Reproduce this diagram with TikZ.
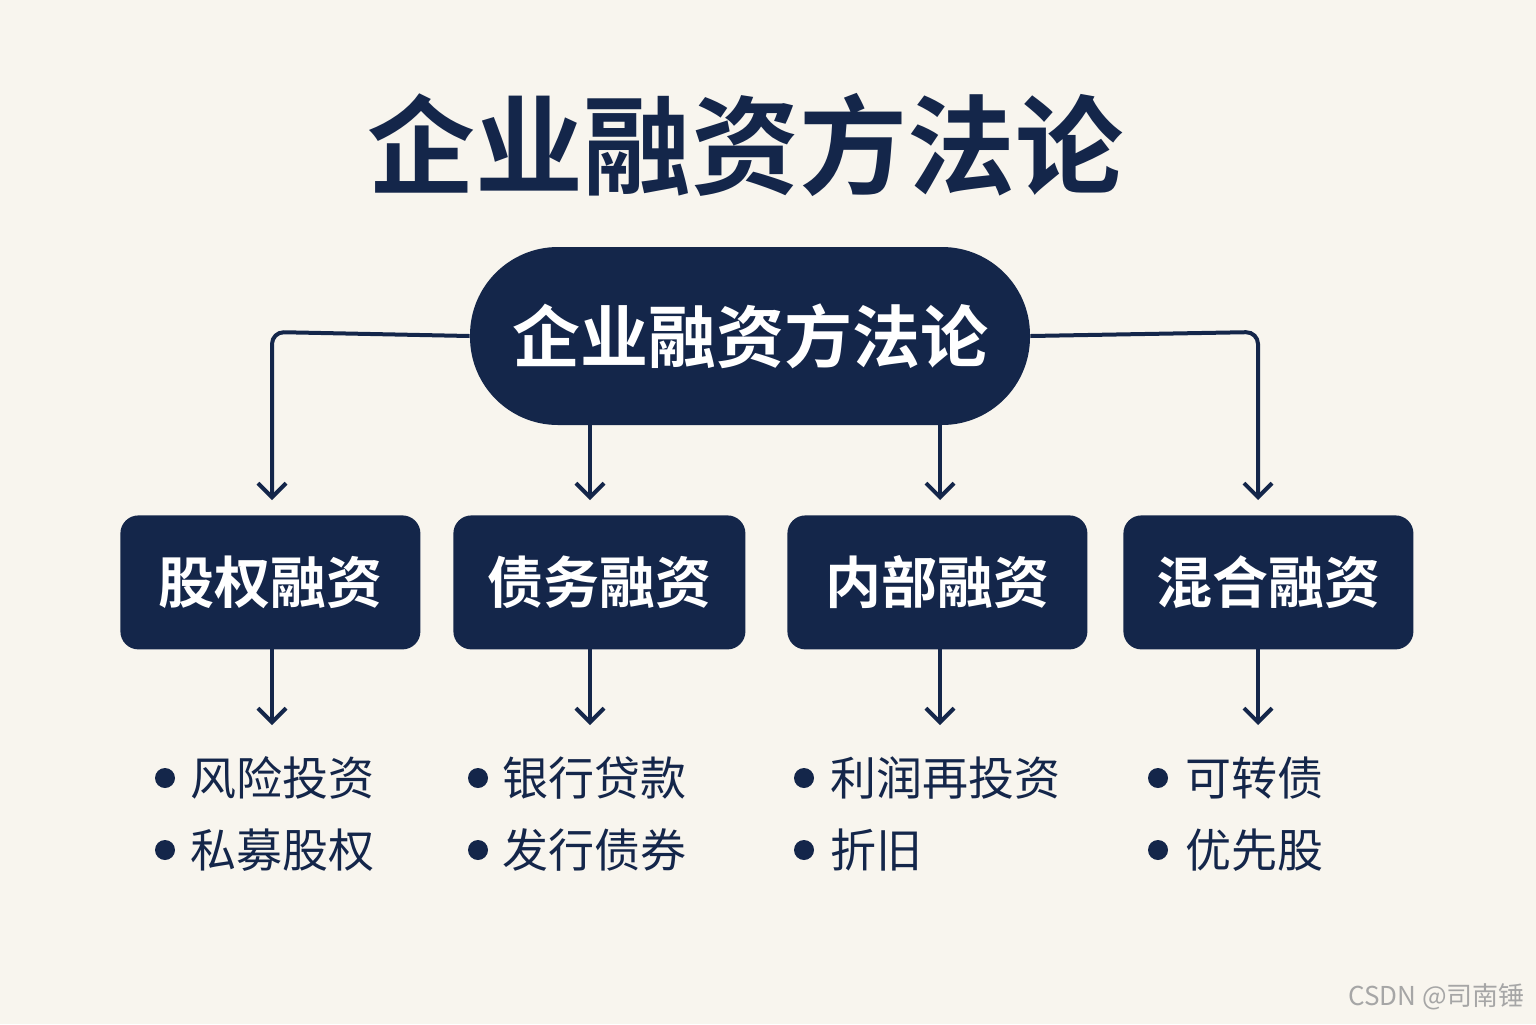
\documentclass[tikz,border=0pt]{standalone}
\usepackage{fontspec}
\setmainfont{Noto Sans CJK SC}[BoldFont={Noto Sans CJK SC Bold}]
\usetikzlibrary{arrows.meta}
\definecolor{navy}{HTML}{14264A}
\definecolor{bg}{HTML}{F8F5EE}
\begin{document}
\begin{tikzpicture}[x=0.5pt,y=-0.5pt,
  box/.style={fill=navy,rounded corners=9pt,text=white,font=\bfseries\fontsize{28}{30}\selectfont,inner sep=0pt,anchor=north west},
  arr/.style={navy,line width=2pt,-{Straight Barb[length=7pt,width=14pt,line width=2pt]},rounded corners=6pt},
  item/.style={anchor=west,text=navy,font=\fontsize{23}{26}\selectfont,inner sep=0pt},
  dot/.style={circle,fill=navy,inner sep=0pt,minimum size=10pt}]
\fill[bg] (0,0) rectangle (1536,1024);
\useasboundingbox (0,0) rectangle (1536,1024);
\node[text=navy,font=\bfseries\fontsize{54}{60}\selectfont] (title) at (745,145) {企业融资方法论};
\node[fill=navy,rounded corners=44pt,minimum width=280pt,minimum height=89pt,text=white,font=\bfseries\fontsize{34}{38}\selectfont,inner sep=0pt] (root) at (750,336) {企业融资方法论};
\node[box,minimum width=150pt,minimum height=67pt] (b1) at (120,515) {};
\node[box,minimum width=146pt,minimum height=67pt] (b2) at (453,515) {};
\node[box,minimum width=150pt,minimum height=67pt] (b3) at (787,515) {};
\node[box,minimum width=145pt,minimum height=67pt] (b4) at (1123,515) {};
\node[text=white,font=\bfseries\fontsize{28}{30}\selectfont] at (b1.center) {股权融资};
\node[text=white,font=\bfseries\fontsize{28}{30}\selectfont] at (b2.center) {债务融资};
\node[text=white,font=\bfseries\fontsize{28}{30}\selectfont] at (b3.center) {内部融资};
\node[text=white,font=\bfseries\fontsize{28}{30}\selectfont] at (b4.center) {混合融资};
\coordinate (l1) at (272,332); \coordinate (r1) at (1258,332);
\draw[arr] (root.west) -- (l1) -- (272,500);
\draw[arr] (root.east) -- (r1) -- (1258,500);
\draw[arr] (590,424) -- (590,500);
\draw[arr] (940,424) -- (940,500);
\draw[arr] (272,648) -- (272,725);
\draw[arr] (590,648) -- (590,725);
\draw[arr] (940,648) -- (940,725);
\draw[arr] (1258,648) -- (1258,725);
\foreach \x/\t/\a/\b in {165/190/风险投资/私募股权,478/502/银行贷款/发行债券,804/830/利润再投资/折旧,1158/1185/可转债/优先股}{
  \node[dot] at (\x,778) {}; \node[item] at (\t,778) {\a};
  \node[dot] at (\x,850) {}; \node[item] at (\t,850) {\b};}
\node[text=gray!70,font=\fontsize{13}{15}\selectfont,anchor=east] (wm) at (1532,997) {CSDN @司南锤};
\end{tikzpicture}
\end{document}
